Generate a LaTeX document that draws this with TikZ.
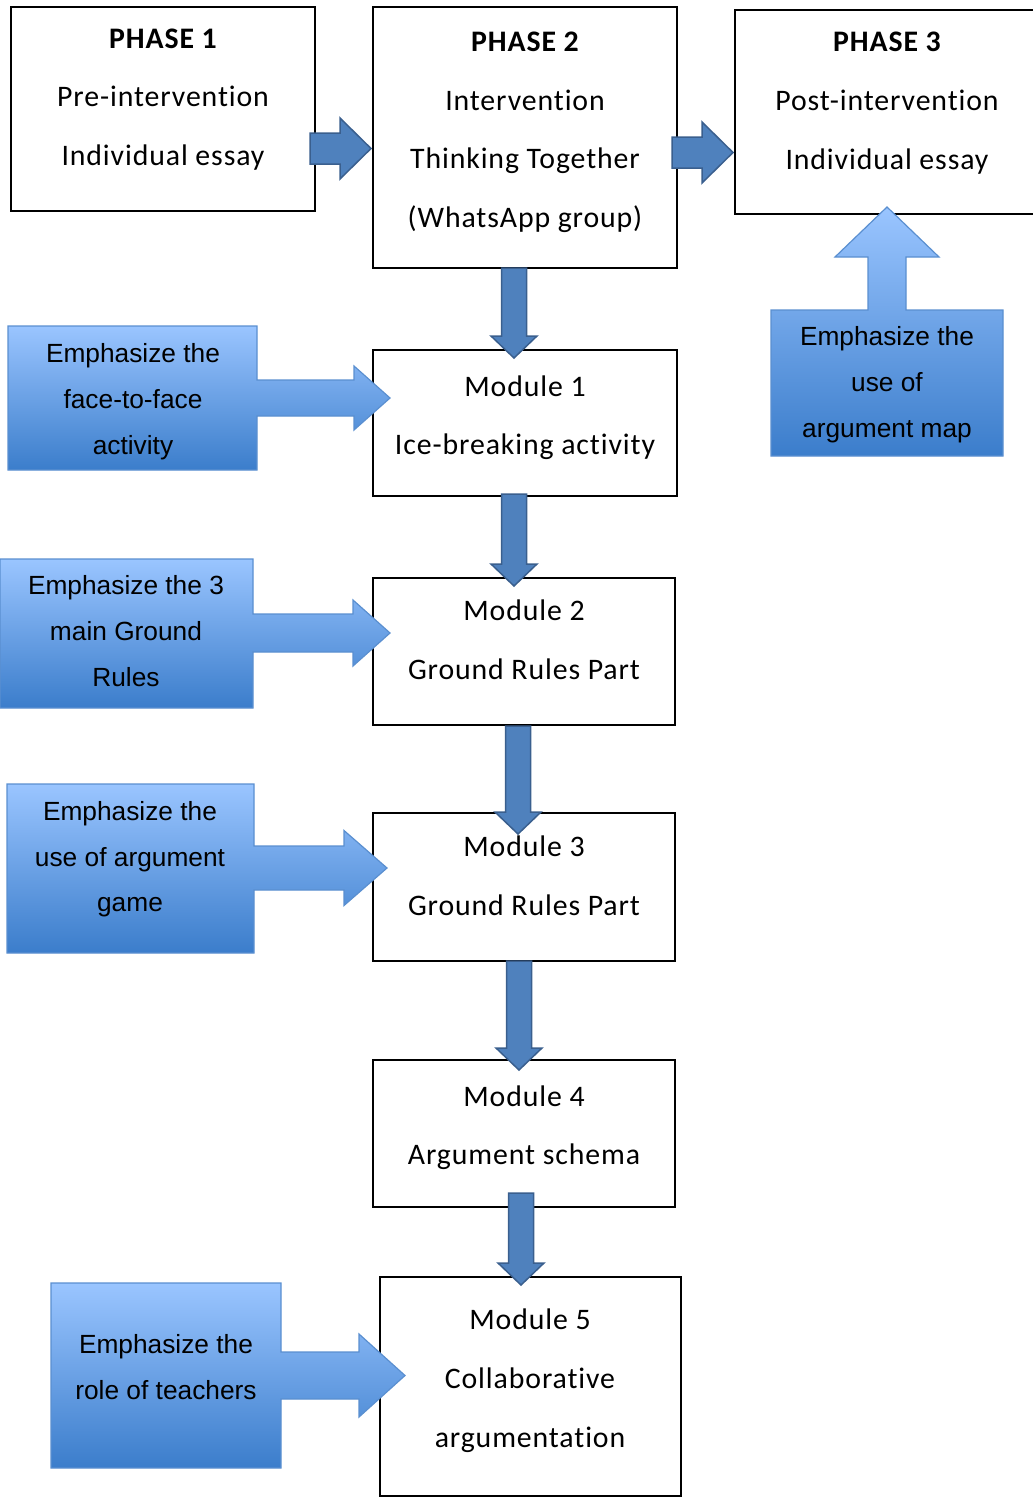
\documentclass[tikz,border=0pt]{standalone}
\usepackage{fontspec}
\newfontfamily\boxfont[LetterSpace=3,Ligatures=NoCommon]{Carlito}
\newfontfamily\callfont{Liberation Sans}

\definecolor{arrowfill}{HTML}{4F81BD}
\definecolor{arrowline}{HTML}{3A5F8E}
\definecolor{calltop}{HTML}{9AC5FF}
\definecolor{callbot}{HTML}{3B7DCB}
\definecolor{callline}{HTML}{5A8FD0}

\tikzset{
  stagebox/.style={draw=black, line width=2.4pt, fill=white, rectangle,
    inner sep=0pt, outer sep=0pt, anchor=north west},
  boxtxt/.style={anchor=base, inner sep=0pt, text=black,
    font=\boxfont\fontsize{29.8}{34}\selectfont},
  calltxt/.style={anchor=base, inner sep=0pt, text=black,
    font=\callfont\fontsize{26.3}{30}\selectfont},
  blockarrow/.style={fill=arrowfill, draw=arrowline, line width=1.5pt,
    line join=miter},
  callshape/.style={draw=callline, line width=1.2pt, top color=calltop,
    bottom color=callbot, line join=miter},
}

% downward block arrow: centre x, top y, tip y
\newcommand\dnblock[3]{%
  \path[blockarrow] (#1-12.5,#2) -- (#1+12.5,#2) -- (#1+12.5,#3-22)
    -- (#1+23,#3-22) -- (#1,#3) -- (#1-23,#3-22) -- (#1-12.5,#3-22) -- cycle;}
% rightward block arrow: start x, centre y, tip x
\newcommand\rtblock[3]{%
  \path[blockarrow] (#1,#2-15.5) -- (#3-31,#2-15.5) -- (#3-31,#2-30.5)
    -- (#3,#2) -- (#3-31,#2+30.5) -- (#3-31,#2+15.5) -- (#1,#2+15.5) -- cycle;}
% callout box with a right arrow:
% x1,y1,x2,y2 of box; centre y of arrow; shaft half width; head start x; head half width; tip x
\newcommand\rtcallout[9]{%
  \path[callshape] (#1,#2) -- (#3,#2) -- (#3,#5-#6) -- (#7,#5-#6) -- (#7,#5-#8)
    -- (#9,#5) -- (#7,#5+#8) -- (#7,#5+#6) -- (#3,#5+#6) -- (#3,#4) -- (#1,#4) -- cycle;}

\begin{document}
\begin{tikzpicture}[x=1pt,y=-1pt]
\useasboundingbox (0,0) rectangle (1033,1499);

% stage boxes
\node[stagebox, minimum width=304, minimum height=204] (p1) at (11,7) {};
\node[stagebox, minimum width=304, minimum height=261] (p2) at (373,7) {};
\node[stagebox, minimum width=305, minimum height=204] (p3) at (735,10) {};
\node[stagebox, minimum width=304, minimum height=146] (m1) at (373,350) {};
\node[stagebox, minimum width=302, minimum height=147] (m2) at (373,578) {};
\node[stagebox, minimum width=302, minimum height=148] (m3) at (373,813) {};
\node[stagebox, minimum width=302, minimum height=147] (m4) at (373,1060) {};
\node[stagebox, minimum width=301, minimum height=219] (m5) at (380,1277) {};

% flow arrows between the stages
\rtblock{310}{148.5}{371}
\rtblock{672}{152.5}{733}
\dnblock{514}{268}{358}
\dnblock{514}{494}{586}
\dnblock{518}{726}{834}
\dnblock{519}{961}{1070}
\dnblock{521}{1193}{1285}

% emphasis callouts
\rtcallout{8}{326}{257}{470}{398}{18}{354}{32}{390}
\rtcallout{0}{559}{253}{708}{633}{19}{353}{33}{390}
\rtcallout{7}{784}{254}{953}{868}{22}{344}{37.5}{387}
\rtcallout{51}{1283}{281}{1468}{1375.5}{23.5}{359}{41.5}{405}
\path[callshape] (771,310) -- (868,310) -- (868,257) -- (835,257) -- (887,207)
  -- (939,257) -- (906,257) -- (906,310) -- (1003,310) -- (1003,456)
  -- (771,456) -- cycle;

% stage texts
\node[boxtxt] (p1a) at (163,48) {\bfseries PHASE 1};
\node[boxtxt] (p1b) at (163,106) {Pre-intervention};
\node[boxtxt] (p1c) at (163,165) {Individual essay};

\node[boxtxt] (p2a) at (525,51) {\bfseries PHASE 2};
\node[boxtxt] (p2b) at (525,110) {Intervention};
\node[boxtxt] (p2c) at (525,168) {Thinking Together};
\node[boxtxt] (p2d) at (525,227) {(WhatsApp group)};

\node[boxtxt] (p3a) at (887,51) {\bfseries PHASE 3};
\node[boxtxt] (p3b) at (887,110) {Post-intervention};
\node[boxtxt] (p3c) at (887,169) {Individual essay};

\node[boxtxt] (m1a) at (525,396) {Module 1};
\node[boxtxt] (m1b) at (525,454) {Ice-breaking activity};
\node[boxtxt] (m2a) at (524,620) {Module 2};
\node[boxtxt] (m2b) at (524,679) {Ground Rules Part};
\node[boxtxt] (m3a) at (524,856) {Module 3};
\node[boxtxt] (m3b) at (524,915) {Ground Rules Part};
\node[boxtxt] (m4a) at (524,1106) {Module 4};
\node[boxtxt] (m4b) at (524,1164) {Argument schema};
\node[boxtxt] (m5a) at (530,1329) {Module 5};
\node[boxtxt] (m5b) at (530,1388) {Collaborative};
\node[boxtxt] (m5c) at (530,1447) {argumentation};

% callout texts
\node[calltxt] (c1a) at (133,362) {Emphasize the};
\node[calltxt] (c1b) at (133,408) {face-to-face};
\node[calltxt] (c1c) at (133,454) {activity};

\node[calltxt] (c2a) at (126,594) {Emphasize the 3};
\node[calltxt] (c2b) at (126,640) {main Ground};
\node[calltxt] (c2c) at (126,686) {Rules};

\node[calltxt] (c3a) at (130,820) {Emphasize the};
\node[calltxt] (c3b) at (130,866) {use of argument};
\node[calltxt] (c3c) at (130,911) {game};

\node[calltxt] (c4a) at (166,1353) {Emphasize the};
\node[calltxt] (c4b) at (166,1399) {role of teachers};

\node[calltxt] (c5a) at (887,345) {Emphasize the};
\node[calltxt] (c5b) at (887,391) {use of};
\node[calltxt] (c5c) at (887,437) {argument map};
\end{tikzpicture}
\end{document}
